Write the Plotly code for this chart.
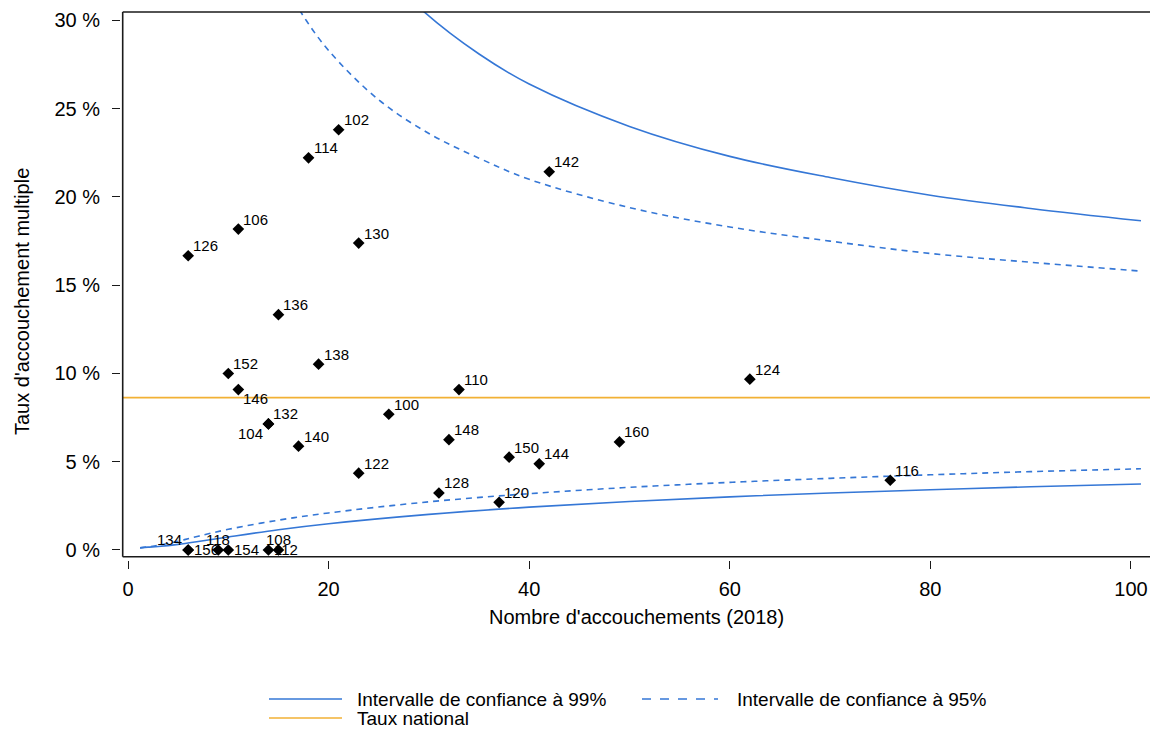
import plotly.graph_objects as go

# --- Données ---------------------------------------------------------------
# Établissements : identifiant, nombre d'accouchements (2018), taux d'accouchement multiple (%)
etab_id = ["102", "114", "142", "106", "126", "130", "136", "152", "138", "146",
           "110", "124", "100", "132", "104", "140", "148", "160", "150", "144",
           "122", "116", "128", "120", "134", "156", "118", "154", "108", "112"]
etab_n = [21, 18, 42, 11, 6, 23, 15, 10, 19, 11,
          33, 62, 26, 14, 14, 17, 32, 49, 38, 41,
          23, 76, 31, 37, 6, 6, 9, 10, 15, 14]
etab_taux = [23.81, 22.22, 21.43, 18.18, 16.67, 17.39, 13.33, 10.00, 10.53, 9.09,
             9.09, 9.68, 7.69, 7.14, 7.14, 5.88, 6.25, 6.12, 5.26, 4.88,
             4.35, 3.95, 3.23, 2.70, 0.0, 0.0, 0.0, 0.0, 0.0, 0.0]

# Taux national (%)
taux_national = 8.63

# Limites de l'entonnoir (%), par nombre d'accouchements
ic99_haut_n = [20, 25, 29.5, 35, 40, 50, 60, 70, 80, 90, 101]
ic99_haut = [37.2, 33.1, 30.5, 28.1, 26.4, 24.0, 22.3, 21.1, 20.1, 19.35, 18.65]
ic95_haut_n = [12, 15, 17.2, 20, 25, 30, 35, 40, 50, 60, 70, 80, 90, 101]
ic95_haut = [36.8, 32.7, 30.5, 28.3, 25.5, 23.6, 22.2, 21.0, 19.4, 18.3, 17.5, 16.8, 16.3, 15.8]
ic_bas_n = [1.2, 2, 3, 5, 7, 10, 15, 20, 30, 40, 50, 60, 70, 80, 90, 101]
ic99_bas = [0.12, 0.16, 0.20, 0.32, 0.48, 0.74, 1.15, 1.49, 2.02, 2.43, 2.75, 3.01, 3.23, 3.41, 3.58, 3.74]
ic95_bas = [0.12, 0.18, 0.26, 0.50, 0.78, 1.17, 1.69, 2.10, 2.73, 3.19, 3.55, 3.83, 4.06, 4.26, 4.44, 4.60]

x_ticks = [0, 20, 40, 60, 80, 100]
y_ticks = [0, 5, 10, 15, 20, 25, 30]
y_ticktext = ["0 %", "5 %", "10 %", "15 %", "20 %", "25 %", "30 %"]

# --- Mise en page (pixels) ------------------------------------------------
W, H = 1150, 731
ML, MR, MT, MB = 100, 0, 12, 150
PW, PH = W - ML - MR, H - MT - MB


def px(x):
    return (x - ML) / PW


def py(y):
    return (H - MB - y) / PH


FONT = "Liberation Sans, Arial, sans-serif"
BLEU = "#3577d6"
ORANGE = "#f2b134"
AXE = "#1a1a1a"

fig = go.Figure()

# Limites à 99 % (trait plein) et à 95 % (tirets)
fig.add_trace(go.Scatter(x=ic99_haut_n, y=ic99_haut, mode="lines", line_shape="spline",
                         line=dict(color=BLEU, width=1.6), showlegend=False, hoverinfo="skip"))
fig.add_trace(go.Scatter(x=ic_bas_n, y=ic99_bas, mode="lines", line_shape="spline",
                         line=dict(color=BLEU, width=1.6), showlegend=False, hoverinfo="skip"))
fig.add_trace(go.Scatter(x=ic95_haut_n, y=ic95_haut, mode="lines", line_shape="spline",
                         line=dict(color=BLEU, width=1.6, dash="6px,5px"),
                         showlegend=False, hoverinfo="skip"))
fig.add_trace(go.Scatter(x=ic_bas_n, y=ic95_bas, mode="lines", line_shape="spline",
                         line=dict(color=BLEU, width=1.6, dash="6px,5px"),
                         showlegend=False, hoverinfo="skip"))

# Taux national
fig.add_trace(go.Scatter(x=[-0.53, 101.9], y=[taux_national, taux_national], mode="lines",
                         line=dict(color=ORANGE, width=1.8), showlegend=False, hoverinfo="skip"))

# Établissements
fig.add_trace(go.Scatter(x=etab_n, y=etab_taux, mode="markers",
                         marker=dict(symbol="diamond", size=9, color="black"),
                         text=etab_id, showlegend=False,
                         hovertemplate="%{text}: %{x} acc., %{y:.2f} %<extra></extra>"))

# Position des étiquettes (par défaut : en haut à droite du point)
position = {"146": "bd", "104": "bg", "134": "hg", "156": "d", "118": "h",
            "154": "d", "108": "h", "112": "d"}
decalage = {
    "hd": dict(xanchor="left", xshift=3, yshift=10),
    "d": dict(xanchor="left", xshift=4, yshift=0),
    "h": dict(xanchor="center", xshift=0, yshift=10),
    "hg": dict(xanchor="right", xshift=-4, yshift=10),
    "bd": dict(xanchor="left", xshift=3, yshift=-9),
    "bg": dict(xanchor="right", xshift=-3, yshift=-10),
}
annotations = []
for lab, n, t in zip(etab_id, etab_n, etab_taux):
    d = decalage[position.get(lab, "hd")]
    annotations.append(dict(x=n, y=t, xref="x", yref="y", text=lab, showarrow=False,
                            yanchor="middle", font=dict(family=FONT, size=15, color="black"),
                            **d))

# Titres des axes
annotations.append(dict(x=px(636), y=py(617), xref="paper", yref="paper",
                        text="Nombre d'accouchements (2018)", showarrow=False,
                        xanchor="center", yanchor="middle",
                        font=dict(family=FONT, size=20, color="black")))
annotations.append(dict(x=px(22), y=py(302), xref="paper", yref="paper",
                        text="Taux d'accouchement multiple", showarrow=False, textangle=-90,
                        xanchor="center", yanchor="middle",
                        font=dict(family=FONT, size=20, color="black")))

# Légende
leg_font = dict(family=FONT, size=19, color="black")
legende = [("Intervalle de confiance à 99%", 269, 342, 355, 699, BLEU, "solid"),
           ("Intervalle de confiance à 95%", 642, 718, 735, 699, BLEU, "dash"),
           ("Taux national", 269, 342, 355, 718, ORANGE, "solid")]
shapes = []
for txt, x0, x1, xt, y, col, dash in legende:
    shapes.append(dict(type="line", xref="paper", yref="paper", x0=px(x0), x1=px(x1),
                       y0=py(y), y1=py(y), line=dict(color=col, width=1.6, dash=dash)))
    annotations.append(dict(x=px(xt), y=py(y), xref="paper", yref="paper", text=txt,
                            showarrow=False, xanchor="left", yanchor="middle", font=leg_font))

# Cadre du graphique (gauche, bas, haut)
for x0, y0, x1, y1 in [(0, 0, 0, 1), (0, 0, 1, 0), (0, 1, 1, 1)]:
    shapes.append(dict(type="line", xref="x domain", yref="y domain", x0=x0, y0=y0,
                       x1=x1, y1=y1, line=dict(color=AXE, width=1.6)))

fig.update_layout(
    width=W, height=H,
    margin=dict(l=ML, r=MR, t=MT, b=MB, autoexpand=False),
    paper_bgcolor="white", plot_bgcolor="white",
    font=dict(family=FONT, size=20, color="black"),
    xaxis=dict(range=[-0.53, 101.9], domain=[px(122.7), 1], anchor="free", position=py(559.5),
               tickvals=x_ticks, ticks="outside", ticklen=8, tickwidth=1.4, tickcolor=AXE,
               showline=False, showgrid=False, zeroline=False, ticklabelstandoff=3,
               tickfont=dict(family=FONT, size=20, color="black")),
    yaxis=dict(range=[-0.38, 30.48], domain=[py(556.7), 1], anchor="free", position=px(120),
               tickvals=y_ticks, ticktext=y_ticktext, ticks="outside", ticklen=8,
               tickwidth=1.4, tickcolor=AXE, showline=False, showgrid=False, zeroline=False,
               ticklabelstandoff=8, tickfont=dict(family=FONT, size=20, color="black")),
    annotations=annotations,
    shapes=shapes,
)

fig.write_html("out.html")
